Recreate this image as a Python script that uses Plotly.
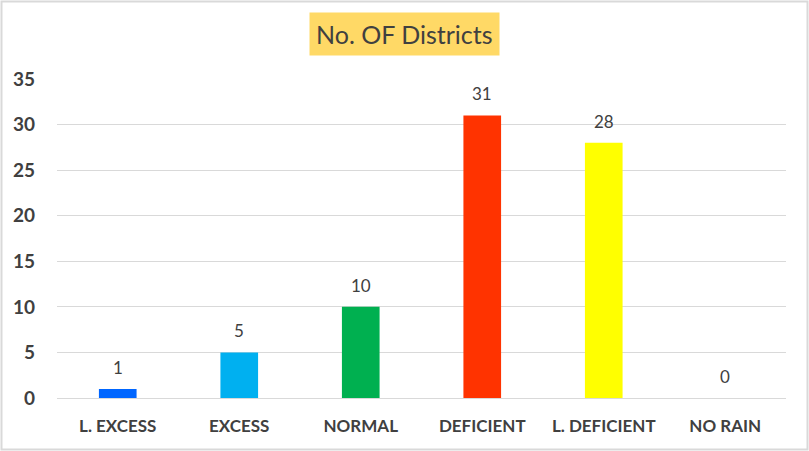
import plotly.graph_objects as go

categories = ["L. EXCESS", "EXCESS", "NORMAL", "DEFICIENT", "L. DEFICIENT", "NO RAIN"]
values = [1, 5, 10, 31, 28, 0]
colors = ["#0066FF", "#00B0F0", "#00B050", "#FF3300", "#FFFF00", "#7F7F7F"]
yticks = [0, 5, 10, 15, 20, 25, 30, 35]

W, H = 809, 451
L, R, T, B = 57, 23, 79, 53

fig = go.Figure(go.Bar(
    x=categories, y=values, marker=dict(color=colors, line=dict(width=0)),
    width=0.31,
))

pw, ph = W - L - R, H - T - B
labels = [dict(x=c, y=v, text=str(v), xref="x", yref="y", showarrow=False,
               yanchor="bottom", yshift=9,
               font=dict(family="Lato", size=17, color="#404040"))
          for c, v in zip(categories, values)]
fig.update_layout(
    width=W, height=H, margin=dict(l=L, r=R, t=T, b=B),
    paper_bgcolor="white", plot_bgcolor="white", showlegend=False,
    xaxis=dict(showgrid=False, showline=False, ticks="", zeroline=False,
               ticklabelstandoff=16,
               tickfont=dict(family="Lato", size=17, color="#404040", weight="bold")),
    yaxis=dict(range=[0, 35], tickvals=yticks, showgrid=True, gridcolor="#D9D9D9",
               gridwidth=1, zeroline=True, zerolinecolor="#D9D9D9", zerolinewidth=1,
               showline=False, ticks="", ticklabelstandoff=21,
               tickfont=dict(family="Lato", size=19, color="#404040", weight="bold")),
    annotations=labels + [dict(
        text="No. OF Districts", xref="paper", yref="paper",
        x=(404 - L) / pw, y=1 + (T - 34) / ph, xanchor="center", yanchor="middle",
        showarrow=False, bgcolor="#FFD966", borderpad=6,
        font=dict(family="Lato", size=25, color="#404040"),
    )],
    shapes=[dict(type="rect", xref="paper", yref="paper",
                 x0=-(L - 1.5) / pw, x1=1 + (R - 1.5) / pw,
                 y0=-(B - 1.5) / ph, y1=1 + (T - 1.5) / ph,
                 line=dict(color="#D9D9D9", width=2), layer="below")],
)
fig.write_html("out.html")
